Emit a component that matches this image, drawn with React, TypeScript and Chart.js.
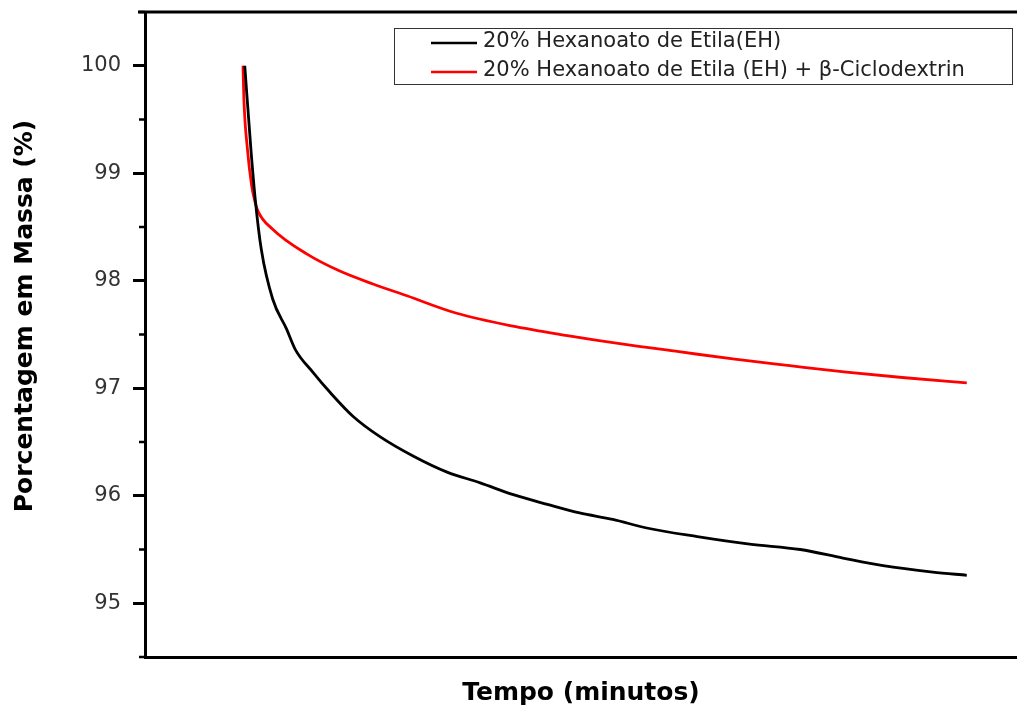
import React, { useEffect, useRef } from "react";
import { Chart, registerables } from "chart.js";

Chart.register(...registerables);

// Time (arbitrary minutes, axis has no tick labels)
const timeEH = [0.2, 0.9, 1.4, 2.1, 3.4, 5.0, 6.0, 8.0, 10.0, 12.6, 15.7, 19.5, 23.4, 27.2, 31.0, 34.9, 38.6, 42.4, 46.3, 52.1, 58.1, 63.9, 68.8, 73.4, 79.1, 83.0];
const massEH = [100, 99.23, 98.76, 98.29, 97.83, 97.55, 97.36, 97.15, 96.96, 96.74, 96.55, 96.37, 96.22, 96.12, 96.01, 95.92, 95.84, 95.78, 95.7, 95.62, 95.55, 95.5, 95.42, 95.35, 95.29, 95.26];

const timeEHCD = [0, 0.1, 0.5, 1.0, 1.3, 1.7, 3.4, 7.3, 11.1, 14.9, 18.8, 24.4, 30.8, 37.2, 43.6, 50.0, 56.4, 62.7, 69.2, 75.6, 83.0];
const massEHCD = [100, 99.69, 99.23, 98.88, 98.76, 98.65, 98.48, 98.25, 98.09, 97.97, 97.86, 97.7, 97.58, 97.49, 97.41, 97.34, 97.27, 97.21, 97.15, 97.1, 97.05];

const seriesLabels = [
  "20% Hexanoato de Etila(EH)",
  "20% Hexanoato de Etila (EH) + β-Ciclodextrin",
];
const seriesColors = ["#000000", "#ff0000"];
const yTitle = "Porcentagem em Massa (%)";
const xTitle = "Tempo (minutos)";
const yMin = 94.5;
const yMax = 100.5;
const yTicks = [95, 96, 97, 98, 99, 100];
const minorTicks = [94.5, 95.5, 96.5, 97.5, 98.5, 99.5, 100.5];

const FONT = "'DejaVu Sans', 'Liberation Sans', Arial, sans-serif";

const framePlugin = {
  id: "framePlugin",
  afterDraw(chart: any) {
    const ctx = chart.ctx;
    const area = chart.chartArea;
    const ys = chart.scales.y;
    ctx.save();
    // top frame line
    ctx.strokeStyle = "#000";
    ctx.lineWidth = 3;
    ctx.beginPath();
    ctx.moveTo(area.left - 7, area.top);
    ctx.lineTo(chart.width, area.top);
    ctx.stroke();
    // minor ticks
    ctx.lineWidth = 2.5;
    minorTicks.forEach((v) => {
      const y = ys.getPixelForValue(v);
      ctx.beginPath();
      ctx.moveTo(area.left - 6, y);
      ctx.lineTo(area.left, y);
      ctx.stroke();
    });
    // y title
    ctx.save();
    ctx.translate(25, 316);
    ctx.rotate(-Math.PI / 2);
    ctx.font = "bold 25px " + FONT;
    ctx.fillStyle = "#000";
    ctx.textAlign = "center";
    ctx.textBaseline = "middle";
    ctx.fillText(yTitle, 0, 0);
    ctx.restore();
    // legend box
    ctx.lineWidth = 1;
    ctx.strokeStyle = "#333";
    ctx.strokeRect(394.5, 28.5, 618, 56);
    const rows = [43, 72];
    rows.forEach((ry, i) => {
      ctx.strokeStyle = seriesColors[i];
      ctx.lineWidth = 2.5;
      ctx.beginPath();
      ctx.moveTo(431, ry);
      ctx.lineTo(477, ry);
      ctx.stroke();
      ctx.font = "21px " + FONT;
      ctx.fillStyle = "#222";
      ctx.textAlign = "left";
      ctx.textBaseline = "middle";
      ctx.fillText(seriesLabels[i], 483, ry - 1.5);
    });
    ctx.restore();
  },
};

export default function App() {
  const ref = useRef<HTMLCanvasElement | null>(null);
  useEffect(() => {
    if (!ref.current) return;
    const chart = new Chart(ref.current, {
      type: "line",
      data: {
        datasets: [
          {
            label: seriesLabels[0],
            data: timeEH.map((t, i) => ({ x: t, y: massEH[i] })),
            borderColor: seriesColors[0],
            borderWidth: 2.8,
            pointRadius: 0,
            cubicInterpolationMode: "monotone",
            fill: false,
          },
          {
            label: seriesLabels[1],
            data: timeEHCD.map((t, i) => ({ x: t, y: massEHCD[i] })),
            borderColor: seriesColors[1],
            borderWidth: 2.8,
            pointRadius: 0,
            cubicInterpolationMode: "monotone",
            fill: false,
          },
        ],
      },
      options: {
        animation: false,
        responsive: false,
        layout: { padding: { top: 12, left: 0, right: 0, bottom: 0 } },
        plugins: {
          legend: { display: false },
          tooltip: { enabled: false },
        },
        scales: {
          x: {
            type: "linear",
            min: -11.24,
            max: 88.76,
            ticks: { display: false },
            grid: { display: false },
            border: { display: true, color: "#000", width: 3 },
            title: {
              display: true,
              text: xTitle,
              color: "#000",
              font: { family: FONT, size: 25, weight: "bold" },
              padding: { top: 0, bottom: 3 },
            },
            afterFit: (s: any) => {
              s.height = 54;
              s.paddingLeft = 0;
              s.paddingRight = 0;
            },
          },
          y: {
            type: "linear",
            min: yMin,
            max: yMax,
            afterBuildTicks: (s: any) => {
              s.ticks = yTicks.map((v) => ({ value: v }));
            },
            ticks: {
              color: "#333",
              padding: 12,
              font: { family: FONT, size: 21 },
              callback: (v: any) => String(v),
            },
            grid: {
              display: true,
              drawOnChartArea: false,
              drawTicks: true,
              tickLength: 12,
              tickWidth: 3,
              tickColor: "#000",
            },
            border: { display: true, color: "#000", width: 3 },
            afterFit: (s: any) => {
              s.width = 145;
              s.paddingTop = 0;
              s.paddingBottom = 0;
            },
          },
        },
      },
      plugins: [framePlugin],
    });
    return () => chart.destroy();
  }, []);
  return (
    <div style={{ position: "absolute", left: 0, top: 0, width: 1017, height: 711, background: "#fff" }}>
      <canvas ref={ref} width={1017} height={711} style={{ display: "block" }} />
    </div>
  );
}
